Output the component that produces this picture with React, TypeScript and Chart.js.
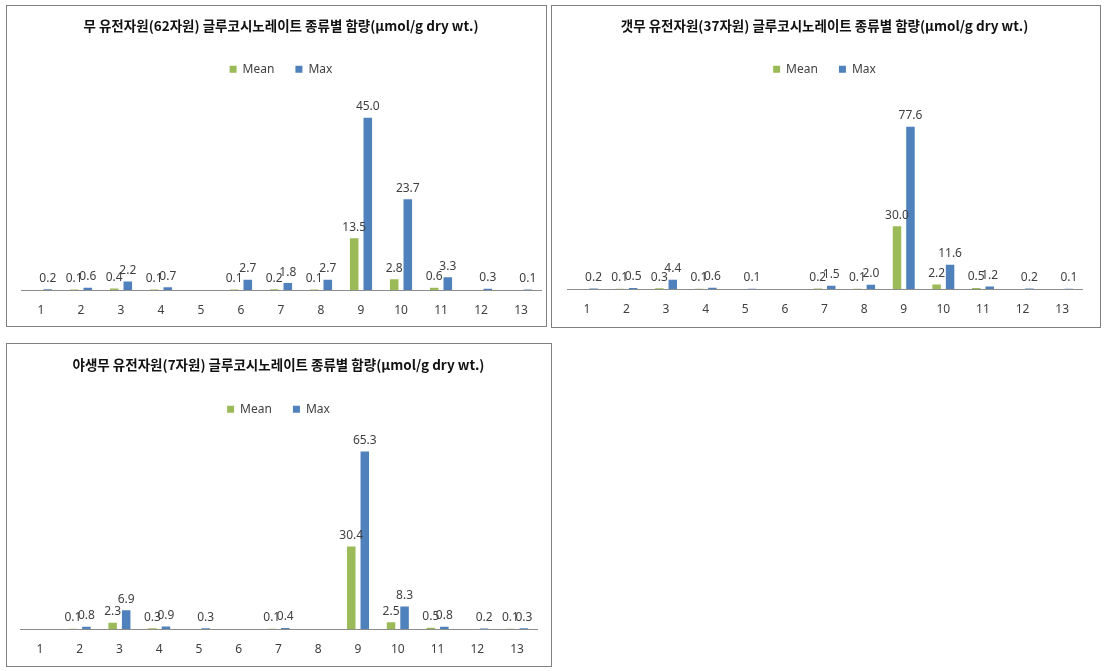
import React, { useEffect, useRef } from 'react';
import { Chart, registerables } from 'chart.js';

Chart.register(...registerables);

const categories = ['1', '2', '3', '4', '5', '6', '7', '8', '9', '10', '11', '12', '13'];
const seriesNames = ['Mean', 'Max'];

const title1 = '무 유전자원(62자원) 글루코시노레이트 종류별 함량(μmol/g dry wt.)';
const mean1 = [null, 0.1, 0.4, 0.1, null, 0.1, 0.2, 0.1, 13.5, 2.8, 0.6, null, null];
const max1 = [0.2, 0.6, 2.2, 0.7, null, 2.7, 1.8, 2.7, 45.0, 23.7, 3.3, 0.3, 0.1];

const title2 = '갯무 유전자원(37자원) 글루코시노레이트 종류별 함량(μmol/g dry wt.)';
const mean2 = [null, 0.1, 0.3, 0.1, null, null, 0.2, 0.1, 30.0, 2.2, 0.5, null, null];
const max2 = [0.2, 0.5, 4.4, 0.6, 0.1, null, 1.5, 2.0, 77.6, 11.6, 1.2, 0.2, 0.1];

const title3 = '야생무 유전자원(7자원) 글루코시노레이트 종류별 함량(μmol/g dry wt.)';
const mean3 = [null, 0.1, 2.3, 0.3, null, null, 0.1, null, 30.4, 2.5, 0.5, null, 0.1];
const max3 = [null, 0.8, 6.9, 0.9, 0.3, null, 0.4, null, 65.3, 8.3, 0.8, 0.2, 0.3];

const MEAN_COLOR = '#9BBB59';
const MAX_COLOR = '#4F81BD';
const TEXT_COLOR = '#404040';

const labelPlugin = {
  id: 'barValueLabels',
  afterDatasetsDraw(chart: any) {
    const ctx = chart.ctx;
    ctx.save();
    ctx.font = '12px "Noto Sans"';
    ctx.fillStyle = TEXT_COLOR;
    ctx.textAlign = 'center';
    ctx.textBaseline = 'bottom';
    chart.data.datasets.forEach((ds: any, di: number) => {
      const meta = chart.getDatasetMeta(di);
      meta.data.forEach((bar: any, i: number) => {
        const v = ds.data[i];
        if (v === null || v === undefined) return;
        ctx.fillText(Number(v).toFixed(1), bar.x, bar.y - 5);
      });
    });
    ctx.restore();
  },
};

type BoxProps = {
  left: number;
  top: number;
  width: number;
  height: number;
  title: string;
  mean: (number | null)[];
  max: (number | null)[];
  yMax: number;
  padLeft: number;
  padRight: number;
  padBottom: number;
  titleTop: number;
  titleBottom: number;
};

function ChartBox(p: BoxProps) {
  const ref = useRef<HTMLCanvasElement>(null);
  useEffect(() => {
    if (!ref.current) return;
    const chart = new Chart(ref.current, {
      type: 'bar',
      data: {
        labels: categories,
        datasets: [
          {
            label: seriesNames[0],
            data: p.mean,
            backgroundColor: MEAN_COLOR,
            borderWidth: 0,
            categoryPercentage: 0.68,
            barPercentage: 0.63,
          },
          {
            label: seriesNames[1],
            data: p.max,
            backgroundColor: MAX_COLOR,
            borderWidth: 0,
            categoryPercentage: 0.68,
            barPercentage: 0.63,
          },
        ],
      } as any,
      options: {
        responsive: false,
        animation: false,
        layout: {
          padding: { left: p.padLeft, right: p.padRight, top: 0, bottom: p.padBottom },
        },
        plugins: {
          title: {
            display: true,
            text: p.title,
            color: '#111',
            font: { family: '"Noto Sans CJK KR"', size: 13.5, weight: 'bold' },
            padding: { top: p.titleTop, bottom: p.titleBottom },
          },
          legend: {
            display: true,
            position: 'top',
            labels: {
              boxWidth: 7,
              boxHeight: 7,
              padding: 21,
              color: TEXT_COLOR,
              font: { family: '"Noto Sans"', size: 12 },
            },
          },
          tooltip: { enabled: false },
        },
        scales: {
          x: {
            grid: { display: false, drawTicks: false },
            border: { display: true, color: '#8c8c8c', width: 1 },
            ticks: {
              color: TEXT_COLOR,
              padding: 13,
              font: { family: '"Noto Sans"', size: 12 },
            },
            afterFit(scale: any) {
              scale.height = 28;
            },
          },
          y: {
            display: false,
            min: 0,
            max: p.yMax,
          },
        },
      } as any,
      plugins: [labelPlugin],
    });
    return () => chart.destroy();
  }, []);
  return (
    <div
      style={{
        position: 'absolute',
        left: p.left,
        top: p.top,
        width: p.width - 2,
        height: p.height - 2,
        border: '1px solid #808080',
        background: '#fff',
      }}
    >
      <canvas ref={ref} width={p.width - 2} height={p.height - 2} style={{ display: 'block' }} />
    </div>
  );
}

export default function App() {
  return (
    <div>
      <ChartBox left={6} top={5} width={541} height={322} title={title1} mean={mean1} max={max1}
        yMax={53.5} padLeft={14} padRight={5} padBottom={8} titleTop={12} titleBottom={8} />
      <ChartBox left={551} top={5} width={550} height={323} title={title2} mean={mean2} max={max2}
        yMax={97.4} padLeft={15} padRight={18} padBottom={10} titleTop={12} titleBottom={8} />
      <ChartBox left={6} top={343} width={546} height={324} title={title3} mean={mean3} max={max3}
        yMax={75} padLeft={13} padRight={14} padBottom={9} titleTop={13} titleBottom={9} />
    </div>
  );
}
